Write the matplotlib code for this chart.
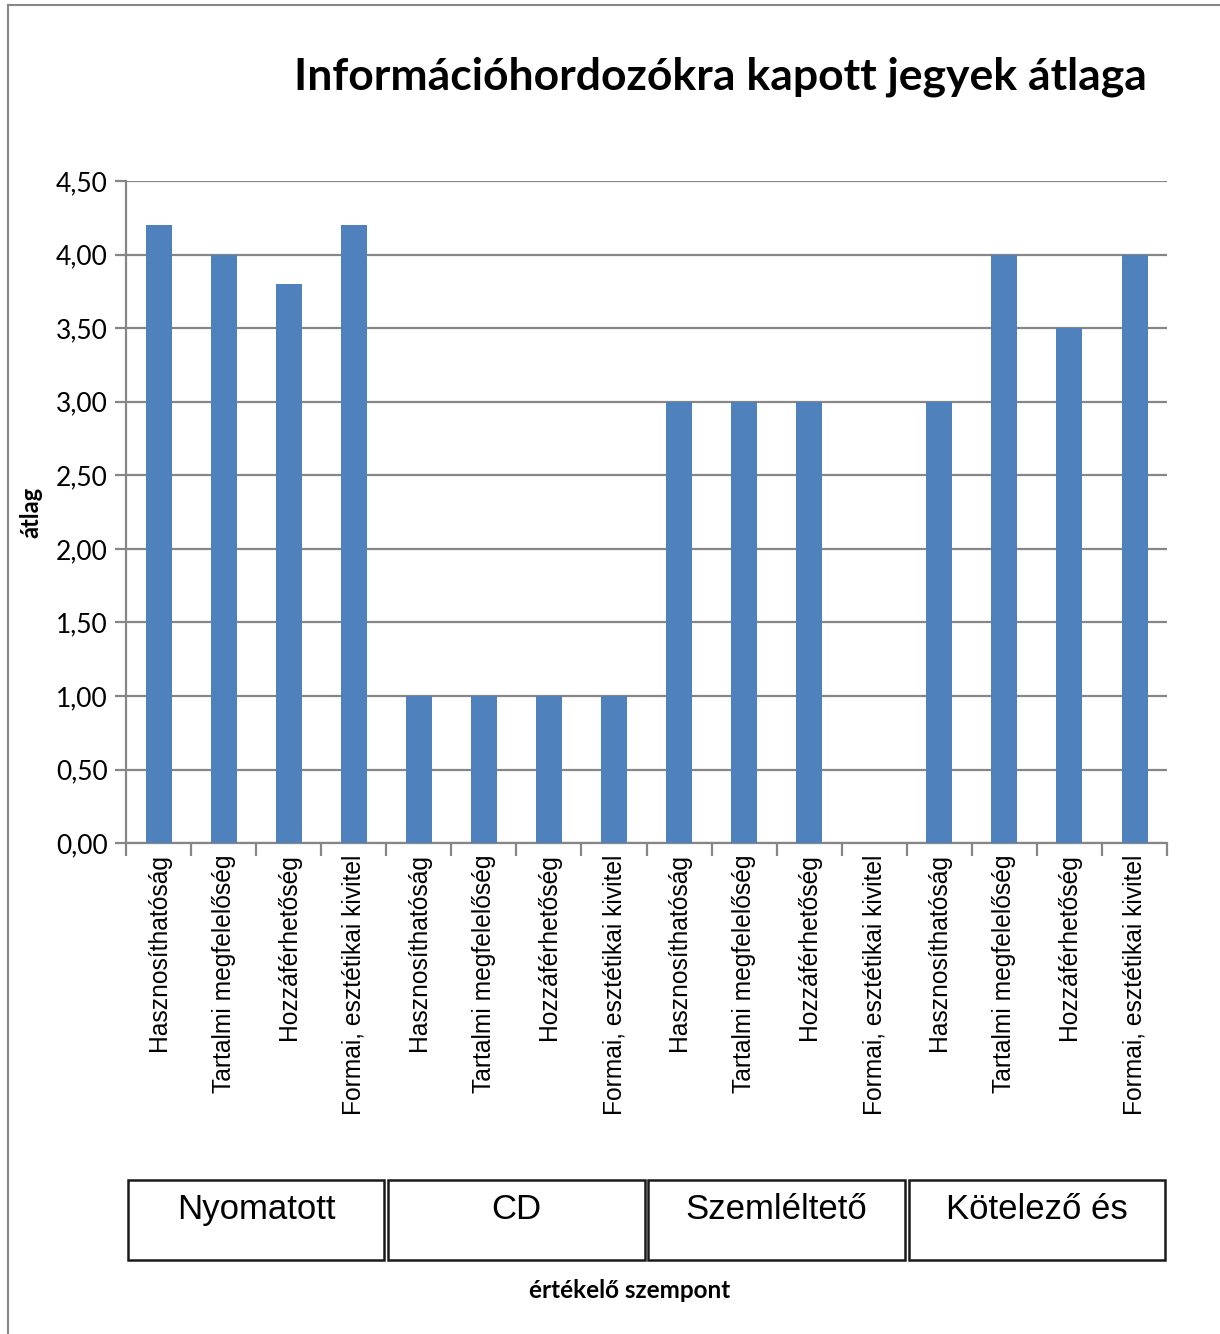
import matplotlib

matplotlib.use("Agg")

import matplotlib.pyplot as plt
import matplotlib.transforms as mtransforms
import numpy as np
from matplotlib.lines import Line2D
from matplotlib.patches import Rectangle


TITLE = "Információhordozókra kapott jegyek átlaga"
CRITERIA = [
    "Hasznosíthatóság",
    "Tartalmi megfelelőség",
    "Hozzáférhetőség",
    "Formai, esztétikai kivitel",
]
GROUPS = ["Nyomatott", "CD", "Szemléltető", "Kötelező és"]
VALUES = [
    [4.2, 4.0, 3.8, 4.2],
    [1.0, 1.0, 1.0, 1.0],
    [3.0, 3.0, 3.0, np.nan],
    [3.0, 4.0, 3.5, 4.0],
]
Y_TICKS = [0.0, 0.5, 1.0, 1.5, 2.0, 2.5, 3.0, 3.5, 4.0, 4.5]

BAR_COLOR = "#4F81BD"
GRID_COLOR = "#868686"

labels = [c for _ in GROUPS for c in CRITERIA]
values = np.array(VALUES, dtype=float).ravel()
x = np.arange(len(values))

fig = plt.figure(figsize=(12.2, 13.34), dpi=100)
ax = fig.add_axes([0.1033, 0.368, 0.8533, 0.4963])

ax.bar(x, values, width=0.4, color=BAR_COLOR, zorder=3)

ax.set_xlim(-0.5, len(values) - 0.5)
ax.set_ylim(0, 4.5)
ax.set_yticks(Y_TICKS)
ax.set_yticklabels([f"{v:.2f}".replace(".", ",") for v in Y_TICKS],
                   fontsize=19, family="Lato")
ax.yaxis.grid(True, color=GRID_COLOR, linewidth=1.6, zorder=0)
ax.set_axisbelow(True)

ax.set_xticks(x)
ax.set_xticklabels(labels, rotation=90, fontsize=17.7, family="Liberation Sans",
                   va="top", ha="center")
ax.set_xticks(np.arange(-0.5, len(values)), minor=True)
ax.tick_params(axis="x", which="major", length=0, pad=8)
ax.tick_params(axis="x", which="minor", length=9, width=1.6, color=GRID_COLOR)
ax.tick_params(axis="y", length=8, width=1.6, color=GRID_COLOR, pad=5)

for side in ("top", "right"):
    ax.spines[side].set_visible(False)
for side in ("left", "bottom"):
    ax.spines[side].set_color(GRID_COLOR)
    ax.spines[side].set_linewidth(1.6)

ax.set_ylabel("átlag", fontsize=17, fontweight="bold", family="Lato", labelpad=10)

# group boxes under the category labels
blend = mtransforms.blended_transform_factory(ax.transData, fig.transFigure)
box_bottom = 1 - 1260 / 1334
box_top = 1 - 1180 / 1334
n = len(CRITERIA)
for i, name in enumerate(GROUPS):
    left = i * n - 0.5 + 0.03
    right = (i + 1) * n - 0.5 - 0.03
    fig.add_artist(Rectangle((left, box_bottom), right - left, box_top - box_bottom,
                             transform=blend, fill=False, edgecolor="#1a1a1a",
                             linewidth=1.8))
    fig.text((left + right) / 2, box_top - 0.0095, name, transform=blend, fontsize=25,
             family="Liberation Sans", ha="center", va="top")

fig.text(630 / 1220, 1 - 1291 / 1334, "értékelő szempont", fontsize=17.5,
         fontweight="bold", family="Lato", ha="center", va="center")

fig.text(1147 / 1220, 1 - 77 / 1334, TITLE, fontsize=32, fontweight="bold",
         family="Lato", ha="right", va="center")

# outer chart frame (left and top edges visible)
fig.add_artist(Line2D([8 / 1220, 8 / 1220], [0, 1 - 5 / 1334], transform=fig.transFigure,
                      color="#888888", linewidth=1.5))
fig.add_artist(Line2D([8 / 1220, 1], [1 - 5 / 1334, 1 - 5 / 1334], transform=fig.transFigure,
                      color="#888888", linewidth=1.5))

fig.savefig("out.png", dpi=100)
plt.close(fig)
